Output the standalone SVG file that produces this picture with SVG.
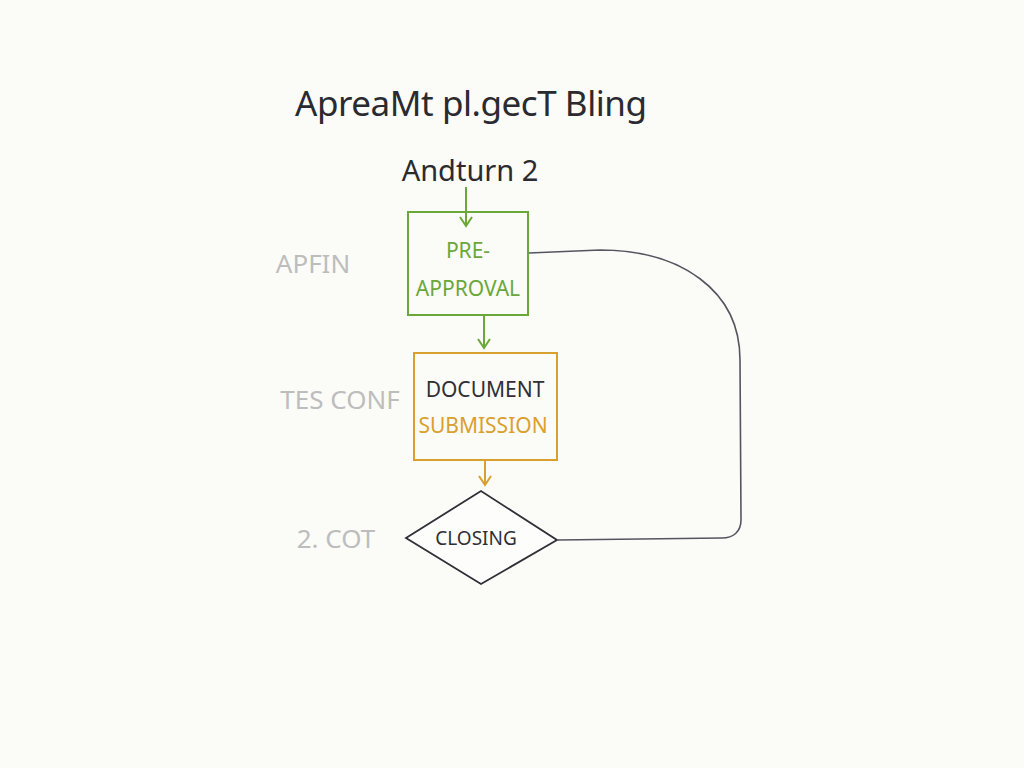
<svg xmlns="http://www.w3.org/2000/svg" width="1024" height="768" viewBox="0 0 1024 768">
<defs>
<style>
text{font-family:"Noto Sans","Liberation Sans",sans-serif;text-anchor:middle}
.title{font-size:35px;fill:#2a2a30}
.sub{font-size:29px;fill:#2a2a30}
.side{font-size:26px;fill:#bdbdbd}
.lbl{font-size:21px}
.g{fill:#6aa83a}
.o{fill:#d9a02e}
.k{fill:#2f2f38}
</style>
<marker id="ag" markerWidth="12" markerHeight="14" refX="10" refY="7" orient="auto" markerUnits="userSpaceOnUse" viewBox="0 0 12 14"><path d="M1,1 L10,7 L1,13" fill="none" stroke="#6aa83a" stroke-width="2"/></marker>
<marker id="ao" markerWidth="12" markerHeight="14" refX="10" refY="7" orient="auto" markerUnits="userSpaceOnUse" viewBox="0 0 12 14"><path d="M1,1 L10,7 L1,13" fill="none" stroke="#d9a02e" stroke-width="2"/></marker>
</defs>
<rect width="1024" height="768" fill="#fbfbf7"/>
<text class="title" x="471" y="116" textLength="352">ApreaMt pl.gecT Bling</text>
<text class="sub" x="470" y="181">Andturn 2</text>
<text class="side" x="313" y="273">APFIN</text>
<text class="side" x="340" y="409">TES CONF</text>
<text class="side" x="336" y="548">2. COT</text>
<g id="connectors" fill="none" stroke-width="2">
<path d="M466,187 L466,226" stroke="#6aa83a" marker-end="url(#ag)"/>
<path d="M484,316 L484,348" stroke="#6aa83a" marker-end="url(#ag)"/>
<path d="M485,461 L485,485" stroke="#d9a02e" marker-end="url(#ao)"/>
<path d="M529,253 L600,250 C680,250 740,290 740,360 L741,520 C741,532 733,538 722,538 L558,540" stroke="#555560" stroke-width="1.6"/>
</g>
<g id="preapproval">
<rect x="408" y="212" width="120" height="103" fill="none" stroke="#6aa83a" stroke-width="2"/>
<text class="lbl g" x="468" y="258">PRE-</text>
<text class="lbl g" x="468" y="296">APPROVAL</text>
</g>
<g id="document">
<rect x="414" y="353" width="143" height="107" fill="none" stroke="#d9a02e" stroke-width="2"/>
<text class="lbl k" x="485" y="397">DOCUMENT</text>
<text class="lbl o" x="483" y="433">SUBMISSION</text>
</g>
<g id="closing">
<path d="M406,538 L481,491 L557,540 L481,584 Z" fill="#fdfdfb" stroke="#2f2f38" stroke-width="1.8"/>
<text class="lbl k" x="476" y="545" style="font-size:19px">CLOSING</text>
</g>
</svg>
